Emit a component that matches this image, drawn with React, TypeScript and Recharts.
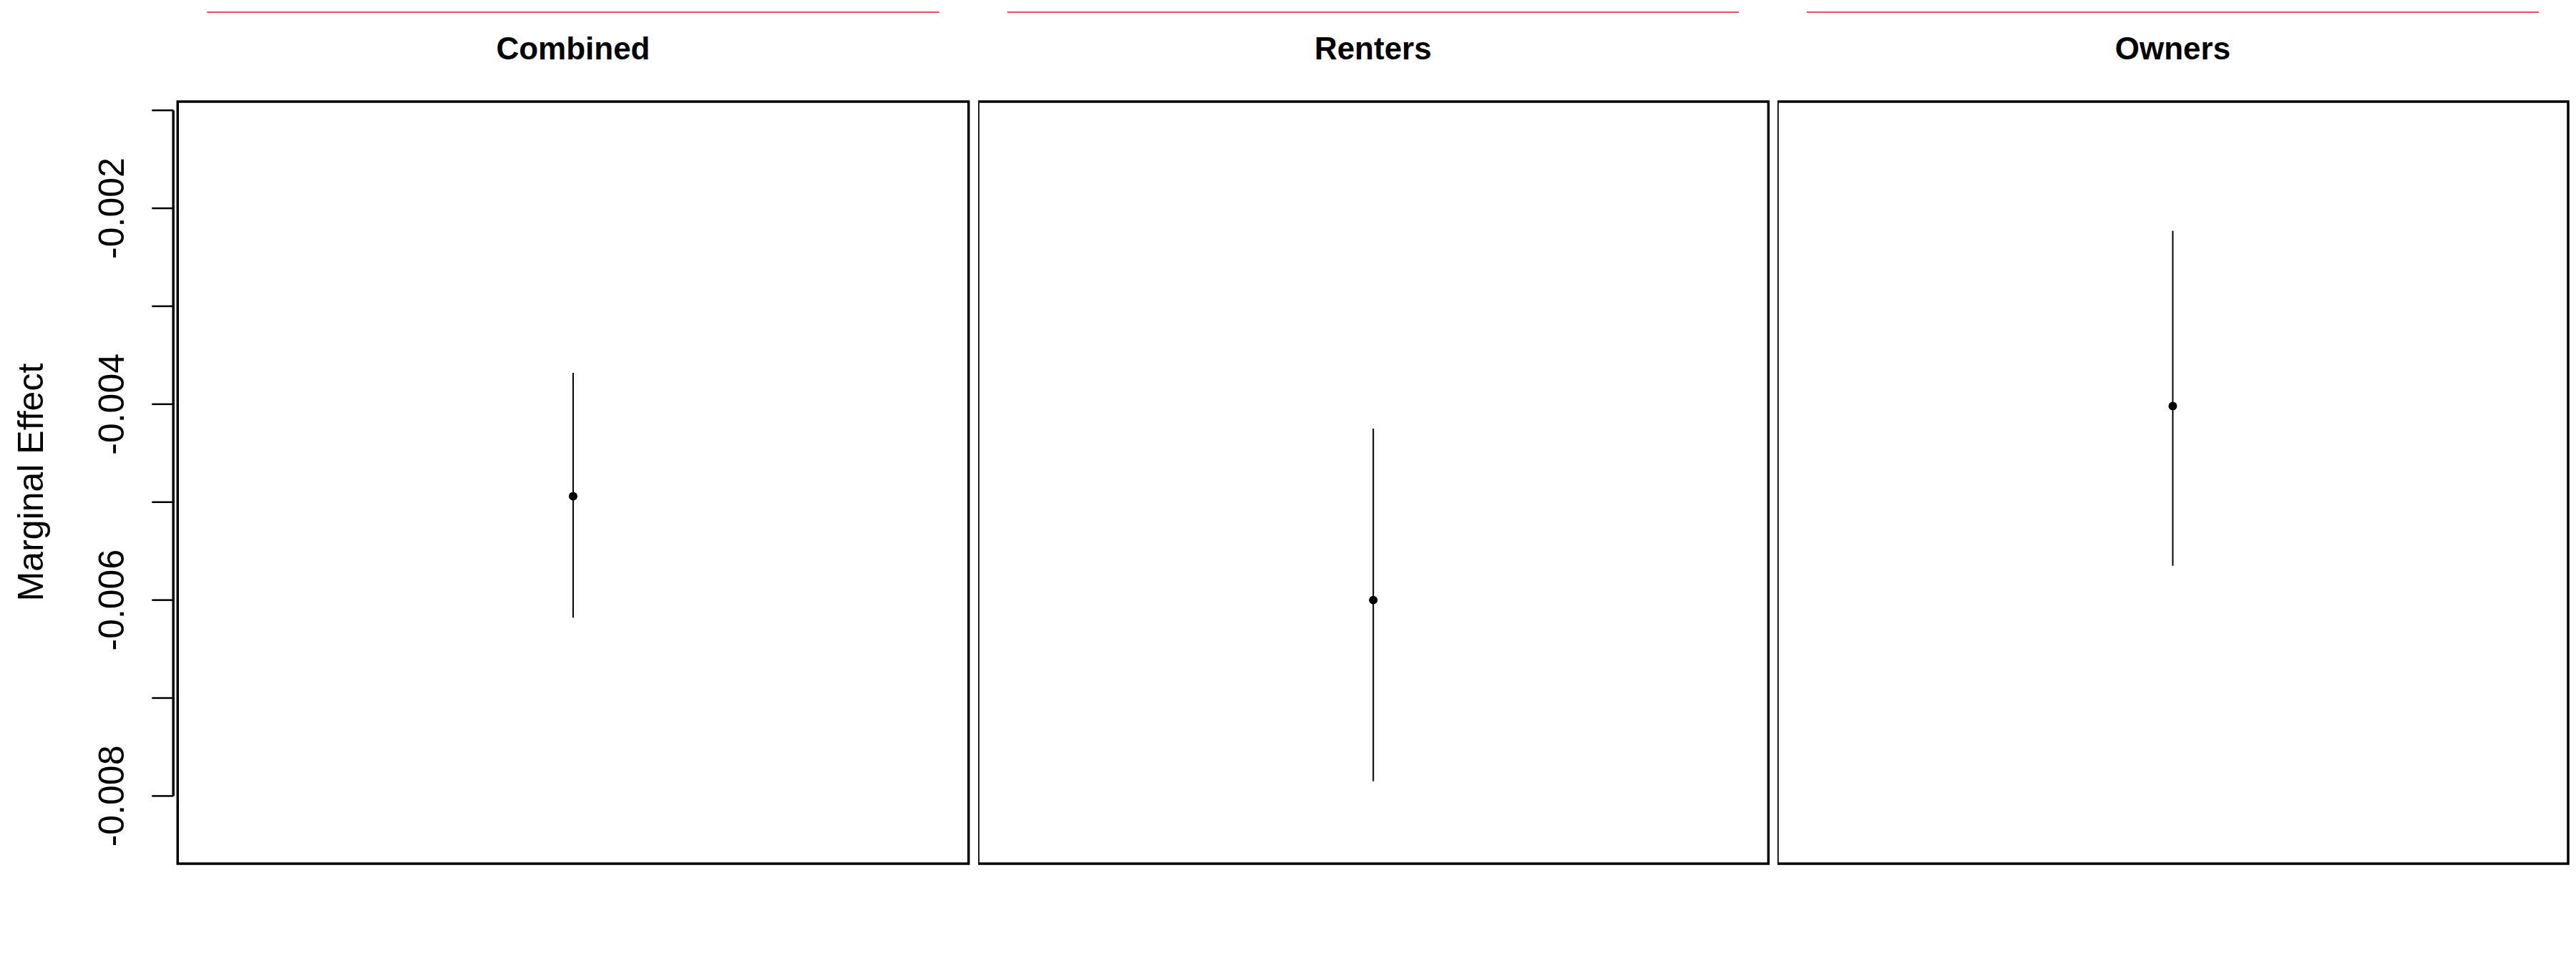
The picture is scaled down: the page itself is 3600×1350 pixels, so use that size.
import { ComposedChart, Scatter, ErrorBar, XAxis, YAxis, ReferenceArea, ReferenceLine } from "recharts";

const panels = ["Combined", "Renters", "Owners"];
const estimates = [-0.00494, -0.006, -0.00402];
const lower = [-0.00618, -0.00785, -0.00565];
const upper = [-0.00368, -0.00425, -0.00223];

const yTicks = [-0.001, -0.002, -0.003, -0.004, -0.005, -0.006, -0.007, -0.008];
const yTickLabels = [-0.002, -0.004, -0.006, -0.008];

const Y_DOMAIN: [number, number] = [-0.008691, -0.000911];
const X_DOMAIN: [number, number] = [0, 2];
const X_POS = 1;

// layout, in page pixels
const W = 3600;
const H = 1350;
const PLOT_TOP = 142;
const PLOT_BOTTOM = 1207;
const plotLefts = [248.3, 1366.6, 2484];
const plotWidths = [1105.3, 1104.4, 1105];
const FONT = "'Liberation Sans', Arial, sans-serif";

function YTick(props: any) {
  const { x, y, payload } = props;
  const v = payload.value;
  const labeled = yTickLabels.some((t) => Math.abs(t - v) < 1e-9);
  const tx = x - 75;
  return (
    <g>
      <line x1={x - 36} x2={x - 6} y1={y} y2={y} stroke="#000" strokeWidth={2.5} />
      {labeled && (
        <text
          x={tx}
          y={y}
          transform={`rotate(-90 ${tx} ${y})`}
          textAnchor="middle"
          fontSize={50}
          fontFamily={FONT}
          fill="#000"
        >
          {v.toFixed(3)}
        </text>
      )}
    </g>
  );
}

function Panel({ i }: { i: number }) {
  const first = i === 0;
  const yw = first ? plotLefts[0] : 0;
  const left = first ? 0 : plotLefts[i];
  const data = [
    {
      x: X_POS,
      y: estimates[i],
      err: [estimates[i] - lower[i], upper[i] - estimates[i]],
    },
  ];
  return (
    <div style={{ position: "absolute", left, top: 0 }}>
      <ComposedChart
        width={yw + plotWidths[i] + 4}
        height={H}
        data={data}
        margin={{ top: PLOT_TOP, bottom: H - PLOT_BOTTOM, left: 0, right: 4 }}
      >
        <XAxis type="number" dataKey="x" domain={X_DOMAIN} hide allowDataOverflow />
        {first ? (
          <YAxis
            type="number"
            domain={Y_DOMAIN}
            ticks={yTicks}
            interval={0}
            width={yw}
            axisLine={false}
            tickLine={false}
            tickSize={0}
            tickMargin={0}
            tick={<YTick />}
            allowDataOverflow
          />
        ) : (
          <YAxis type="number" domain={Y_DOMAIN} hide allowDataOverflow />
        )}
        <ReferenceArea
          y1={Y_DOMAIN[0]}
          y2={Y_DOMAIN[1]}
          fill="none"
          fillOpacity={0}
          stroke="#000"
          strokeWidth={3.5}
          ifOverflow="visible"
        />
        {first && (
          <ReferenceLine
            segment={[
              { x: -0.011, y: yTicks[0] },
              { x: -0.011, y: yTicks[yTicks.length - 1] },
            ]}
            stroke="#000"
            strokeWidth={3.5}
            ifOverflow="visible"
          />
        )}
        <Scatter
          dataKey="y"
          isAnimationActive={false}
          shape={(p: any) => <circle cx={p.cx} cy={p.cy} r={6} fill="#000" />}
        >
          <ErrorBar dataKey="err" direction="y" width={0} stroke="#000" strokeWidth={2} isAnimationActive={false} />
        </Scatter>
      </ComposedChart>
    </div>
  );
}

export default function App() {
  return (
    <div style={{ position: "relative", width: W, height: H, background: "#fff", overflow: "hidden" }}>
      <style>{"body{margin:0}"}</style>
      <svg width={W} height={H} style={{ position: "absolute", left: 0, top: 0 }}>
        {panels.map((name, i) => {
          const cx = plotLefts[i] + plotWidths[i] / 2;
          return (
            <g key={name}>
              <line
                x1={plotLefts[i] + 41}
                x2={plotLefts[i] + plotWidths[i] - 41}
                y1={17}
                y2={17}
                stroke="#dd1a1a"
                strokeWidth={1.5}
              />
              <text x={cx} y={83} textAnchor="middle" fontSize={44} fontWeight="bold" fontFamily={FONT} fill="#000">
                {name}
              </text>
            </g>
          );
        })}
        <text
          x={60}
          y={674}
          transform="rotate(-90 60 674)"
          textAnchor="middle"
          fontSize={50}
          fontFamily={FONT}
          fill="#000"
        >
          Marginal Effect
        </text>
      </svg>
      {panels.map((name, i) => (
        <Panel key={name} i={i} />
      ))}
    </div>
  );
}
